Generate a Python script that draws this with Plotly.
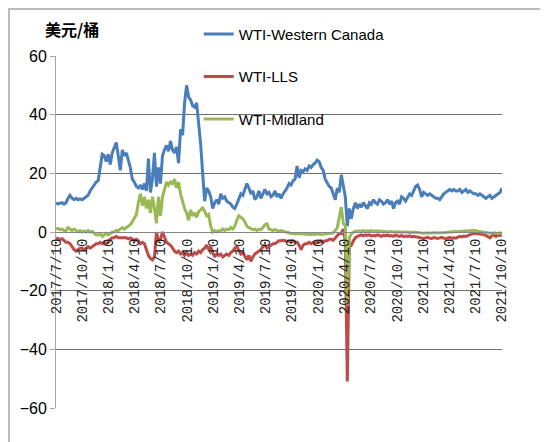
import plotly.graph_objects as go
import pandas as pd

# weekly observations, Monday 2017-07-10 onwards
dates = pd.date_range("2017-07-10", periods=223, freq="7D")

wti_wcs = [
    10, 9.5, 9.8, 10, 9.5, 10, 11.5, 12.5, 11.5, 11,
    11.5, 11, 11.3, 11, 11.5, 12, 12.5, 14, 15, 16,
    17, 17.5, 22, 26.5, 26, 24, 26.5, 23, 27, 28.5,
    30.5, 26, 21, 28, 26, 27, 24.5, 22, 18, 17,
    15.5, 15, 16, 14.5, 16.5, 14, 25, 13.5, 18, 27,
    15.5, 22, 16.5, 26, 28, 29.5, 27.5, 31, 28, 27,
    29, 23.5, 35, 33, 44, 50, 46, 45, 43, 42.5,
    44, 37, 30, 20, 10.5, 15, 14, 12, 8, 10,
    11, 9.5, 13, 11.5, 12, 10.5, 10, 9.5, 8.5, 8,
    9.5, 11, 13, 12.5, 14.5, 16.5, 15, 13, 14, 11,
    12, 14, 11.5, 13, 14.5, 13, 13.5, 12, 12.5, 14,
    12, 13, 11.5, 13, 14, 15, 16.5, 16, 17.5, 18,
    22.5, 18.5, 21, 20.5, 21.5, 21, 22.5, 22, 23, 23.5,
    24.5, 24, 22, 21, 18, 16.5, 15.5, 15, 13, 11,
    15, 13.5, 19.5, 16, 12, 2, 8, 4.5, 8, 10,
    8, 9.5, 8.5, 10, 9, 8, 10, 9.5, 11, 10,
    9.5, 11, 10.5, 9.5, 10, 11, 9.5, 10.5, 8, 10,
    10.5, 9.5, 12, 11.5, 10.5, 12, 13, 12.5, 14, 15.5,
    16, 14.5, 12, 13.5, 13, 12.5, 13, 12.5, 12, 11.5,
    11.5, 11, 12, 13, 13.5, 14, 14.5, 14, 14.5, 14,
    14, 14.5, 13.5, 14, 14.5, 13.5, 14, 13.5, 13, 13,
    12.5, 13, 12.5, 12, 11.5, 12, 12.5, 11.5, 12, 12.5,
    13, 13.5, 15,
]

wti_lls = [
    -2, -2.2, -2.5, -2.3, -3, -3.5, -3.5, -4, -5, -6,
    -6.5, -6, -5.5, -5.5, -6, -5.5, -5, -5.5, -5, -4.5,
    -4, -4, -3.5, -4, -3.5, -4, -3.5, -2.5, -2, -2,
    -1.5, -2, -2, -2.2, -2, -2, -2.3, -2, -2.5, -3,
    -2.5, -3, -4, -3.5, -4, -6, -8, -9, -9.5, -8.5,
    0, -3, -2.5, 0, -2, -3.5, -4, -4.5, -5.5, -6.5,
    -7, -6.5, -7.5, -7, -8, -7, -8, -7.5, -8, -7,
    -7.5, -6.5, -7, -6, -5.5, -4.5, -6, -5, -7, -8.5,
    -7.5, -8, -7.5, -8.5, -8, -7.5, -8, -7, -6.5, -5.5,
    -5, -6.5, -7.5, -7, -8.5, -9.5, -8, -10, -8.5, -7.5,
    -7, -6.5, -6, -5, -4.5, -5.5, -5, -4.5, -4, -4,
    -3.5, -3, -3, -2.8, -3, -3.2, -3, -3.5, -3, -3.5,
    -3.5, -4.5, -6, -4.5, -4, -4, -3.5, -4, -3.5, -4,
    -3.5, -3.5, -3, -3.5, -3, -3, -2.5, -2.5, -2.8, -2,
    -1.5, -0.5, -0.5, 1, -3, -51, -5, -4.5, -3, -2,
    -1.5, -1.2, -1, -1.3, -1, -1.2, -1, -1.4, -1.1, -1.3,
    -1, -1.2, -1.5, -1.1, -1.3, -1, -1.4, -1.2, -1.5, -1.1,
    -1.3, -1.5, -1.2, -1.6, -1.4, -1.5, -1.3, -1.7, -1.5, -1.6,
    -1.8, -2, -1.9, -2.2, -2, -1.8, -2.1, -2.3, -1.9, -2,
    -2.2, -2, -1.8, -2.1, -2.3, -2, -1.9, -2.2, -2, -2.1,
    -1.8, -1.5, -1.7, -1.4, -1.5, -1.2, -0.8, -0.5, -0.4, -0.5,
    -0.6, -0.8, -0.7, -0.9, -1.2, -1.5, -2, -1.2, -1, -1.5,
    -1, -1.2, -1,
]

wti_midland = [
    1, 1.2, 0.8, 1, 0.5, 0.5, 1.5, 1, 0.5, 1,
    0.5, 0, 0.5, 0, 0.3, 0, 0.5, 0, 0.2, -0.5,
    -1, -1, -0.5, -1.5, -1, -0.5, -1, -0.5, 0, 0,
    0.5, 0.5, 1, 1.5, 1, 1.5, 2, 2.5, 3.5, 5,
    6, 10, 13, 9, 12, 8, 11, 6.5, 12, 8,
    3, 12, 5.5, 12, 15, 17, 16, 17, 16.5, 18,
    15, 17, 13, 10, 8, 6.5, 4, 7.5, 5.5, 6.5,
    5, 7, 7.5, 8.5, 7, 5.5, 6, 2, 0, 0.5,
    0, 0.5, 0.3, 1, 0.5, 1, 0.8, 1.5, 1, 2,
    4, 5.5, 5, 4.5, 3.5, 2, 1.5, 1, 0.8, 1,
    0.5, 1, 0.8, 1.5, 2.5, 2.8, 1, 0.8, 0.5, 0.8,
    0.5, 0.3, 0.5, 0.3, 0, 0, -0.3, -0.5, -0.5, -0.7,
    -0.5, -0.6, -0.8, -0.7, -0.6, -0.8, -0.7, -0.9, -0.7, -0.8,
    -0.6, -0.7, -0.8, -0.6, -0.7, -0.5, -0.6, -0.4, -0.3, 0.5,
    1.5, 5, 8.5, 3, 2, -25, -2, -0.5, 0, 0.3,
    0.2, 0.4, 0.3, 0.5, 0.2, 0.4, 0.3, 0.5, 0.2, 0.3,
    0.4, 0.2, 0.3, 0.1, 0.2, 0, 0.1, 0.2, 0, 0.1,
    0, 0.1, -0.1, 0, 0.1, -0.1, 0, -0.2, 0, -0.1,
    -0.2, -0.3, -0.2, -0.4, -0.3, -0.2, -0.3, -0.4, -0.2, -0.3,
    -0.3, -0.2, -0.4, -0.3, -0.2, -0.1, 0, 0.1, 0, 0.2,
    0.1, 0.2, 0.3, 0.2, 0.4, 0.3, 0.5, 0.6, 0.4, 0.5,
    0.3, 0.2, 0, -0.2, -0.3, -0.2, -0.4, -0.5, -0.3, -0.4,
    -0.5, -0.3, -0.5,
]

# quarterly ticks on the 10th: 2017/7/10 ... 2021/10/10
tick_dates = pd.date_range("2017-07-01", "2021-10-01", freq="3MS") + pd.Timedelta(days=9)
tick_labels = [f"{d.year}/{d.month}/{d.day}" for d in tick_dates]

series = [
    ("WTI-Western Canada", wti_wcs, "#4a7ebb"),
    ("WTI-LLS", wti_lls, "#be4b48"),
    ("WTI-Midland", wti_midland, "#98b954"),
]

fig = go.Figure()
for i, (name, vals, color) in enumerate(series):
    fig.add_trace(go.Scatter(
        x=dates, y=vals, name=name, mode="lines",
        line=dict(color=color, width=3),
        legendgroup=f"g{i}",
    ))

# the page body adds an 8px offset, so margins are trimmed on the top/left
fig.update_layout(
    width=548, height=442,
    margin=dict(l=48, r=54, t=48, b=42, autoexpand=False),
    paper_bgcolor="white", plot_bgcolor="white",
    font=dict(family="Liberation Sans, Arial, sans-serif", size=15, color="#000000"),
    showlegend=True,
    legend=dict(
        x=0.32, y=1.109, xanchor="left", yanchor="top",
        bgcolor="rgba(0,0,0,0)", font=dict(size=15),
        traceorder="grouped", tracegroupgap=20,
    ),
)

fig.update_xaxes(
    type="date",
    range=["2017-07-10", "2021-10-11"],
    anchor="free", position=0.5,
    tickvals=tick_dates, ticktext=tick_labels,
    tickangle=-90,
    tickfont=dict(family="Liberation Mono, Courier New, monospace", size=14, color="#222222"),
    showgrid=False, zeroline=False,
    showline=True, linecolor="#868686", linewidth=1,
    ticks="",
)

fig.update_yaxes(
    range=[-60, 60], dtick=20,
    showgrid=True, gridcolor="#6f6f6f", gridwidth=1,
    zeroline=False,
    showline=True, linecolor="#a6a6a6", linewidth=1,
    ticks="outside", ticklen=5, tickcolor="#a6a6a6",
    tickfont=dict(size=16),
)

# y unit label
fig.add_annotation(
    text="<b>美元/桶</b>", xref="paper", yref="paper",
    x=0.036, y=1.077, xanchor="center", yanchor="middle", showarrow=False,
    font=dict(family="Noto Sans CJK SC", size=16, color="#000000"),
)

# chart area border
fig.add_shape(
    type="rect", xref="paper", yref="paper",
    x0=-47 / 446, x1=1.3, y0=-0.3, y1=1 + 47 / 352,
    line=dict(color="#a6a6a6", width=1.5), layer="below",
)

fig.write_html("out.html")
